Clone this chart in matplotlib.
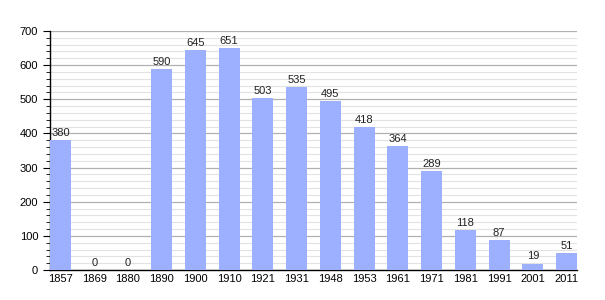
import numpy as np
import matplotlib.pyplot as plt
from matplotlib.ticker import MultipleLocator

years = ['1857', '1869', '1880', '1890', '1900', '1910', '1921', '1931',
         '1948', '1953', '1961', '1971', '1981', '1991', '2001', '2011']
population = [380, 0, 0, 590, 645, 651, 503, 535, 495, 418, 364, 289, 118, 87, 19, 51]

plt.rcParams['font.family'] = ['Liberation Sans', 'DejaVu Sans']

fig = plt.figure(figsize=(6.05, 3.0), dpi=100)
ax = fig.add_axes([50 / 605, 30 / 300, 527 / 605, 239 / 300])

x = np.arange(len(years))
w = 0.62
ax.bar(x, population, width=w, color='#9DB0FF', zorder=3)
for xi, v in zip(x, population):
    ax.text(xi, v + 6, str(v), ha='center', va='bottom', fontsize=8, color='#222222', zorder=4)

ax.set_xlim(-w / 2, len(years) - 1 + w / 2)
ax.set_ylim(0, 700)
ax.set_xticks(x)
ax.set_xticklabels(years)
ax.yaxis.set_major_locator(MultipleLocator(100))
ax.yaxis.set_minor_locator(MultipleLocator(20))
ax.grid(axis='y', which='major', color='#b0b0b0', linewidth=0.9, zorder=0)
ax.grid(axis='y', which='minor', color='#e2e2e2', linewidth=0.8, zorder=0)
ax.tick_params(axis='y', which='major', length=5, labelsize=8, colors='black')
ax.tick_params(axis='y', which='minor', length=3)
ax.tick_params(axis='x', length=0, labelsize=8, pad=3)
for s in ['top', 'right']:
    ax.spines[s].set_visible(False)
ax.spines['left'].set_linewidth(1.0)
ax.spines['bottom'].set_linewidth(1.0)

fig.savefig('out.png', dpi=100)
